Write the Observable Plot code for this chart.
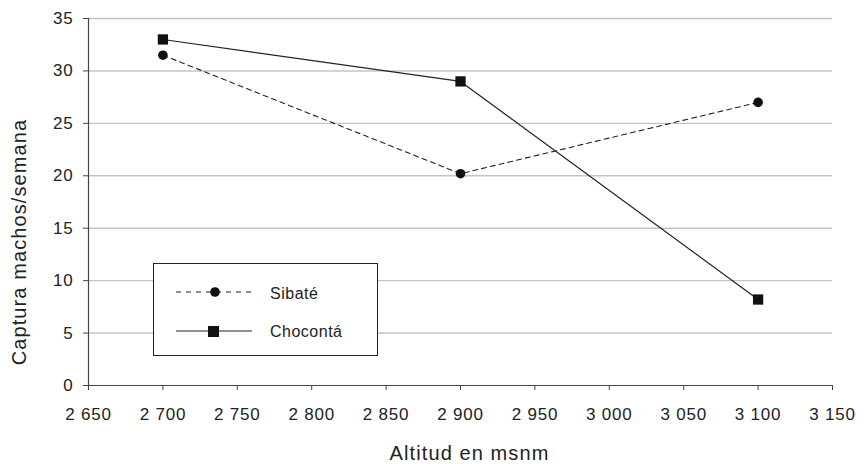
<!DOCTYPE html>
<html><head><meta charset="utf-8">
<script src="https://cdn.jsdelivr.net/npm/d3@7"></script>
<script src="https://cdn.jsdelivr.net/npm/@observablehq/plot@0.6"></script>
<style>
body{margin:0;background:#fff;font-family:"Liberation Sans",Arial,sans-serif;}
#wrap{position:relative;width:866px;height:464px;}
#legend{position:absolute;left:153px;top:263px;width:225px;height:93px;border:1px solid #222;background:#fff;box-sizing:border-box;}
</style></head>
<body><div id="wrap"></div>
<script>
const altitudes = [2700, 2900, 3100];
const sibate = [31.5, 20.2, 27.0];
const choconta = [33.0, 29.0, 8.2];
const seriesNames = ["Sibaté", "Chocontá"];
const xTicks = [2650, 2700, 2750, 2800, 2850, 2900, 2950, 3000, 3050, 3100, 3150];
const yTicks = [0, 5, 10, 15, 20, 25, 30, 35];
const xTitle = "Altitud en msnm";
const yTitle = "Captura machos/semana";

const data = [];
altitudes.forEach((a, i) => {
  data.push({serie: seriesNames[0], x: a, y: sibate[i]});
  data.push({serie: seriesNames[1], x: a, y: choconta[i]});
});
const fmt = d => d3.format(",")(d).replace(",", " ");

const chart = Plot.plot({
  width: 866, height: 464,
  marginLeft: 88, marginRight: 34, marginTop: 18, marginBottom: 79,
  style: {fontFamily: '"Liberation Sans", Arial, sans-serif', fontSize: "17px", color: "#222", background: "#fff"},
  x: {domain: [2650, 3150]},
  y: {domain: [0, 35]},
  marks: [
    Plot.ruleY(yTicks.filter(d => d > 0), {stroke: "#c4c4c4", strokeWidth: 1.4}),
    Plot.axisX({ticks: xTicks, tickFormat: fmt, tickSize: 5, tickPadding: 17, label: null, fontSize: 17, stroke: "#444"}),
    Plot.axisY({ticks: yTicks, tickSize: 5, tickPadding: 10, label: null, fontSize: 17, stroke: "#444"}),
    Plot.ruleY([0], {stroke: "#444", strokeWidth: 1.2}),
    Plot.ruleX([2650], {stroke: "#444", strokeWidth: 1.2}),
    Plot.line(data.filter(d => d.serie === seriesNames[0]), {x: "x", y: "y", stroke: "#222", strokeWidth: 1.1, strokeDasharray: "5,4"}),
    Plot.line(data.filter(d => d.serie === seriesNames[1]), {x: "x", y: "y", stroke: "#222", strokeWidth: 1.2}),
    Plot.dot(data.filter(d => d.serie === seriesNames[0]), {x: "x", y: "y", r: 4.8, fill: "#111", symbol: "circle"}),
    Plot.dot(data.filter(d => d.serie === seriesNames[1]), {x: "x", y: "y", r: 5.8, fill: "#111", symbol: "square"}),
    Plot.text([xTitle], {frameAnchor: "bottom", text: d => d, fontSize: 20, lineAnchor: "bottom", dy: 74, dx: 9, fill: "#222"}),
    Plot.text([yTitle], {frameAnchor: "left", text: d => d, fontSize: 20, rotate: -90, textAnchor: "middle", lineAnchor: "bottom", dx: -63, dy: 40, fill: "#222"})
  ]
});
const wrap = document.getElementById("wrap");
wrap.appendChild(chart);
d3.select(chart).selectAll("text").filter(function() {
  const t = this.textContent; return t === xTitle || t === yTitle;
}).attr("letter-spacing", "1.1px");
d3.select(chart).selectAll('g[aria-label="x-axis tick label"] text, g[aria-label="y-axis tick label"] text').attr("letter-spacing", "0.8px");

const leg = document.createElement("div");
leg.id = "legend";
leg.innerHTML = `<svg width="223" height="91" style="font-family:'Liberation Sans',Arial,sans-serif;font-size:16px;">
 <line x1="22" x2="98" y1="28" y2="28" stroke="#222" stroke-dasharray="5,5" stroke-width="1.1"/>
 <circle cx="61" cy="28" r="4.8" fill="#111"/>
 <text x="116" y="35" fill="#222" letter-spacing="0.5px">${seriesNames[0]}</text>
 <line x1="22" x2="98" y1="67" y2="67" stroke="#222" stroke-width="1.2"/>
 <rect x="54" y="62" width="11" height="11" fill="#111"/>
 <text x="116" y="73" fill="#222" letter-spacing="0.5px">${seriesNames[1]}</text>
</svg>`;
wrap.appendChild(leg);
</script></body></html>
